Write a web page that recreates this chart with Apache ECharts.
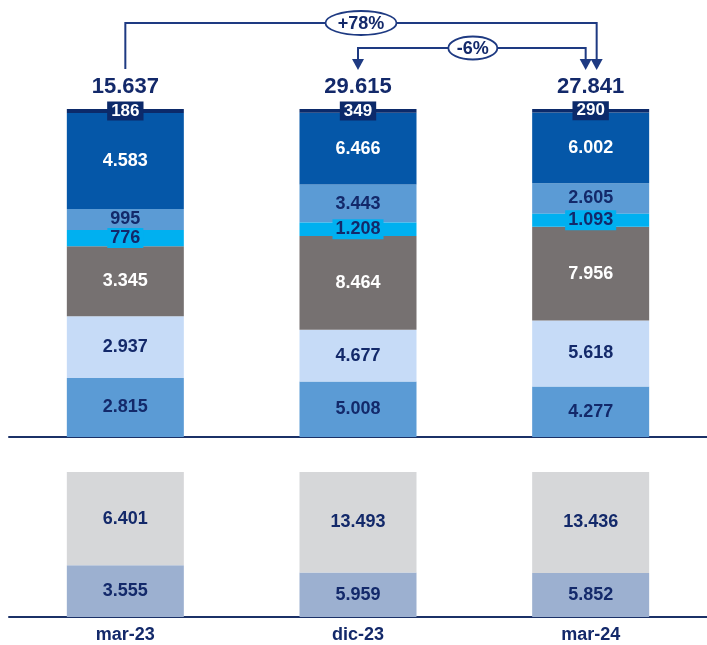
<!DOCTYPE html>
<html><head><meta charset="utf-8">
<script src="https://cdn.jsdelivr.net/npm/echarts@6/dist/echarts.min.js"></script>
<style>html,body{margin:0;padding:0;background:#fff}#c{width:707px;height:645px}</style>
</head><body><div id="c"></div>
<script>
// ---- data ----
const categories = ['mar-23', 'dic-23', 'mar-24'];
// upper stacked block (bottom to top)
const topA = [2815, 5008, 4277];
const topB = [2937, 4677, 5618];
const topC = [3345, 8464, 7956];
const topD = [776, 1208, 1093];
const topE = [995, 3443, 2605];
const topF = [4583, 6466, 6002];
const topG = [186, 349, 290];
// lower stacked block (bottom to top)
const botA = [3555, 5959, 5852];
const botB = [6401, 13493, 13436];

const FONT = 'Arial, "Liberation Sans", sans-serif';
const NAVY = '#13296A';
const LINE = '#1E3A82';

const topSets = [topA, topB, topC, topD, topE, topF, topG];
const topTotals = categories.map((c, i) => topSets.reduce((s, a) => s + a[i], 0));
const botTotals = categories.map((c, i) => botA[i] + botB[i]);

function fmt(n) { return String(n).replace(/\B(?=(\d{3})+(?!\d))/g, '.'); }
function pct(arr, totals) { return arr.map((v, i) => ({ value: v / totals[i] * 100, raw: v })); }

function barSeries(arr, totals, color, labelColor, stack, axis, extra) {
  const s = {
    type: 'bar', stack: stack, xAxisIndex: axis, yAxisIndex: axis,
    barWidth: 117, clip: false, data: pct(arr, totals),
    itemStyle: { color: color },
    label: {
      show: true, position: 'inside', color: labelColor,
      fontFamily: FONT, fontWeight: 'bold', fontSize: 18,
      formatter: p => fmt(p.data.raw)
    }
  };
  if (extra) {
    if (extra.label) Object.assign(s.label, extra.label);
    if (extra.z) s.z = extra.z;
  }
  return s;
}

const series = [
  barSeries(topA, topTotals, '#5B9BD5', NAVY, 'top', 0),
  barSeries(topB, topTotals, '#C6DBF7', NAVY, 'top', 0),
  barSeries(topC, topTotals, '#767171', '#FFFFFF', 'top', 0),
  barSeries(topD, topTotals, '#00B0F0', NAVY, 'top', 0,
    { z: 3, label: { backgroundColor: '#00B0F0', padding: [1, 3] } }),
  barSeries(topE, topTotals, '#5B9BD5', NAVY, 'top', 0),
  barSeries(topF, topTotals, '#0557A8', '#FFFFFF', 'top', 0),
  barSeries(topG, topTotals, '#0C2A6A', '#FFFFFF', 'top', 0,
    { z: 4, label: { backgroundColor: '#0C2A6A', padding: [1, 4], fontSize: 17 } }),
  {
    type: 'bar', stack: 'top', xAxisIndex: 0, yAxisIndex: 0, barWidth: 117, clip: false,
    data: topTotals.map(t => ({ value: 0, raw: t })),
    itemStyle: { color: 'transparent' },
    label: {
      show: true, position: 'top', distance: 11, color: NAVY,
      fontFamily: FONT, fontWeight: 'bold', fontSize: 22,
      formatter: p => fmt(p.data.raw)
    }
  },
  barSeries(botA, botTotals, '#9CB0D0', NAVY, 'bot', 1),
  barSeries(botB, botTotals, '#D6D7D9', NAVY, 'bot', 1)
];

const chart = echarts.init(document.getElementById('c'), null, { renderer: 'canvas' });
const axisLine = { show: true, lineStyle: { color: '#1B3167', width: 2 } };
chart.setOption({
  animation: false,
  backgroundColor: '#fff',
  grid: [
    { left: 9, width: 705, top: 109, height: 328 },
    { left: 9, width: 705, top: 472, height: 145 }
  ],
  xAxis: [
    { type: 'category', gridIndex: 0, data: categories, axisLine: axisLine,
      axisTick: { show: false }, axisLabel: { show: false } },
    { type: 'category', gridIndex: 1, data: categories, axisLine: axisLine,
      axisTick: { show: false },
      axisLabel: { show: true, color: NAVY, fontFamily: FONT, fontWeight: 'bold', fontSize: 18, margin: 9 } }
  ],
  yAxis: [
    { type: 'value', gridIndex: 0, min: 0, max: 100, show: false },
    { type: 'value', gridIndex: 1, min: 0, max: 100, show: false }
  ],
  series: series
});

// ---- comparison brackets, placed from the axes ----
function growth(a, b) {
  const g = Math.round((b / a - 1) * 100);
  return (g > 0 ? '+' : '') + g + '%';
}
const px = i => chart.convertToPixel({ gridIndex: 0 }, [i, 100]);
const p0 = px(0), p1 = px(1), p2 = px(2);
const barTop = p0[1];
const tipY = barTop - 39;
const y78 = barTop - 86, y6 = barTop - 61;

function arrow(x) {
  return { type: 'polygon', shape: { points: [[x - 6, tipY - 11], [x + 6, tipY - 11], [x, tipY]] },
    style: { fill: LINE } };
}
function bubble(cx, cy, rx, ry, text) {
  return [
    { type: 'ellipse', shape: { cx: cx, cy: cy, rx: rx, ry: ry },
      style: { fill: '#fff', stroke: LINE, lineWidth: 1.8 }, z: 10 },
    { type: 'text', x: cx, y: cy + 1, z: 11,
      style: { text: text, fill: NAVY, font: 'bold 18px ' + FONT, align: 'center', verticalAlign: 'middle' } }
  ];
}
const xL = p0[0], xR78 = p2[0] + 6, xM = p1[0], xR6 = p2[0] - 5;
const elements = [
  { type: 'polyline', shape: { points: [[xL, tipY - 1], [xL, y78], [xR78, y78], [xR78, tipY - 10]] },
    style: { stroke: LINE, lineWidth: 2, fill: null } },
  arrow(xR78),
  { type: 'polyline', shape: { points: [[xM, tipY - 10], [xM, y6], [xR6, y6], [xR6, tipY - 10]] },
    style: { stroke: LINE, lineWidth: 2, fill: null } },
  arrow(xM), arrow(xR6),
  ...bubble((xL + xR78) / 2, y78, 35.5, 12, growth(topTotals[0], topTotals[2])),
  ...bubble((xM + xR6) / 2 + 1, y6, 24.5, 11.5, growth(topTotals[1], topTotals[2]))
];
chart.setOption({ graphic: { elements: elements } });
</script>
</body></html>
